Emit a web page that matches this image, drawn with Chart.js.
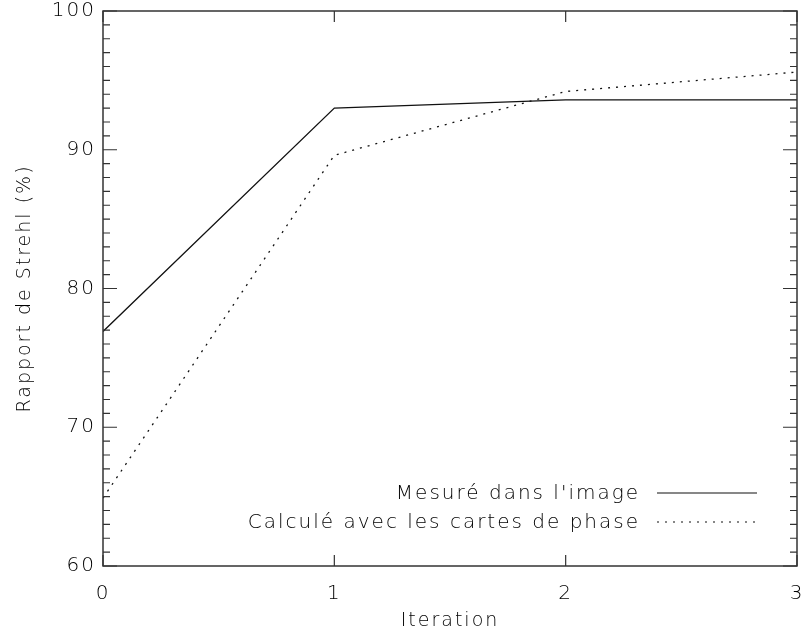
<!DOCTYPE html>
<html lang="fr">
<head>
    <meta charset="UTF-8">
    <title>Rapport de Strehl</title>
    <script src="https://cdn.jsdelivr.net/npm/chart.js"></script>
    <style>
        html, body { margin: 0; padding: 0; background: #fff; }
        #wrap { width: 806px; height: 636px; }
    </style>
</head>
<body>
<div id="wrap"><canvas id="grafico" width="806" height="636"></canvas></div>
<script>
    // donnees
    const iterations = [0, 1, 2, 3];
    const mesure = [76.9, 93.0, 93.6, 93.6];
    const calcule = [64.9, 89.6, 94.2, 95.6];
    const xTicks = [0, 1, 2, 3];
    const yTicks = [60, 70, 80, 90, 100];
    const yMinor = [61, 62, 63, 64, 65, 66, 67, 68, 69, 71, 72, 73, 74, 75, 76, 77, 78, 79,
                    81, 82, 83, 84, 85, 86, 87, 88, 89, 91, 92, 93, 94, 95, 96, 97, 98, 99];
    const legendes = ["Mesuré dans l'image", 'Calculé avec les cartes de phase'];

    const FONTE = '"DejaVu Sans", sans-serif';
    const AXE = '#333';
    const TEXTE = '#000';

    function points(vals) {
        return iterations.map((x, i) => ({ x: x, y: vals[i] }));
    }

    // la police Hershey d'IDL est plus large : on espace les lettres
    const espacePlugin = {
        id: 'espace',
        beforeDraw(chart) { chart.ctx.letterSpacing = '2px'; }
    };

    // cadre, graduations et legende facon IDL
    const cadrePlugin = {
        id: 'cadre',
        afterDraw(chart) {
            const ctx = chart.ctx;
            const a = chart.chartArea;
            const sx = chart.scales.x, sy = chart.scales.y;
            ctx.save();
            ctx.strokeStyle = AXE;
            ctx.lineWidth = 1.5;
            ctx.strokeRect(a.left, a.top, a.right - a.left, a.bottom - a.top);
            ctx.lineWidth = 1.2;
            ctx.beginPath();
            xTicks.forEach(v => {
                const px = sx.getPixelForValue(v);
                ctx.moveTo(px, a.bottom); ctx.lineTo(px, a.bottom - 11);
                ctx.moveTo(px, a.top); ctx.lineTo(px, a.top + 11);
            });
            yTicks.forEach(v => {
                const py = sy.getPixelForValue(v);
                ctx.moveTo(a.left, py); ctx.lineTo(a.left + 14, py);
                ctx.moveTo(a.right, py); ctx.lineTo(a.right - 14, py);
            });
            yMinor.forEach(v => {
                const py = sy.getPixelForValue(v);
                ctx.moveTo(a.left, py); ctx.lineTo(a.left + 7, py);
                ctx.moveTo(a.right, py); ctx.lineTo(a.right - 7, py);
            });
            ctx.stroke();

            // legende
            ctx.font = '300 20px ' + FONTE;
            ctx.letterSpacing = '2px';
            ctx.fillStyle = TEXTE;
            ctx.textAlign = 'right';
            ctx.textBaseline = 'middle';
            const lignes = [493, 522];
            legendes.forEach((t, i) => {
                ctx.fillText(t, 640, lignes[i] + 1);
                ctx.beginPath();
                ctx.strokeStyle = '#111';
                ctx.lineWidth = 1.2;
                ctx.setLineDash(i === 0 ? [] : [2, 6]);
                ctx.moveTo(657, lignes[i]);
                ctx.lineTo(757, lignes[i]);
                ctx.stroke();
            });
            ctx.restore();
        }
    };

    new Chart(document.getElementById('grafico'), {
        type: 'line',
        data: {
            datasets: [{
                label: legendes[0],
                data: points(mesure),
                borderColor: '#111',
                borderWidth: 1.3,
                pointRadius: 0,
                tension: 0
            }, {
                label: legendes[1],
                data: points(calcule),
                borderColor: '#111',
                borderWidth: 1.3,
                borderDash: [2, 6],
                pointRadius: 0,
                tension: 0
            }]
        },
        options: {
            responsive: false,
            animation: false,
            layout: { padding: { top: 11, right: 9, left: 0, bottom: 0 } },
            plugins: {
                legend: { display: false },
                tooltip: { enabled: false }
            },
            scales: {
                x: {
                    type: 'linear',
                    min: 0,
                    max: 3,
                    afterBuildTicks: s => { s.ticks = xTicks.map(v => ({ value: v })); },
                    afterFit: s => { s.height = 70; s.paddingLeft = 0; s.paddingRight = 0; },
                    grid: { display: false, drawTicks: false },
                    border: { display: false },
                    ticks: {
                        color: TEXTE,
                        padding: 16,
                        maxRotation: 0,
                        font: { family: FONTE, size: 20, weight: 300 }
                    },
                    title: {
                        display: true,
                        text: 'Iteration',
                        color: TEXTE,
                        padding: { top: 0, bottom: 4 },
                        font: { family: FONTE, size: 19, weight: 300 }
                    }
                },
                y: {
                    min: 60,
                    max: 100,
                    afterBuildTicks: s => { s.ticks = yTicks.map(v => ({ value: v })); },
                    afterFit: s => { s.width = 103; s.paddingTop = 0; s.paddingBottom = 0; },
                    grid: { display: false, drawTicks: false },
                    border: { display: false },
                    ticks: {
                        color: TEXTE,
                        padding: 7,
                        font: { family: FONTE, size: 20, weight: 300 }
                    },
                    title: {
                        display: true,
                        text: 'Rapport de Strehl (%)',
                        color: TEXTE,
                        padding: { top: 14, bottom: 0 },
                        font: { family: FONTE, size: 19, weight: 300 }
                    }
                }
            }
        },
        plugins: [espacePlugin, cadrePlugin]
    });
</script>
</body>
</html>
